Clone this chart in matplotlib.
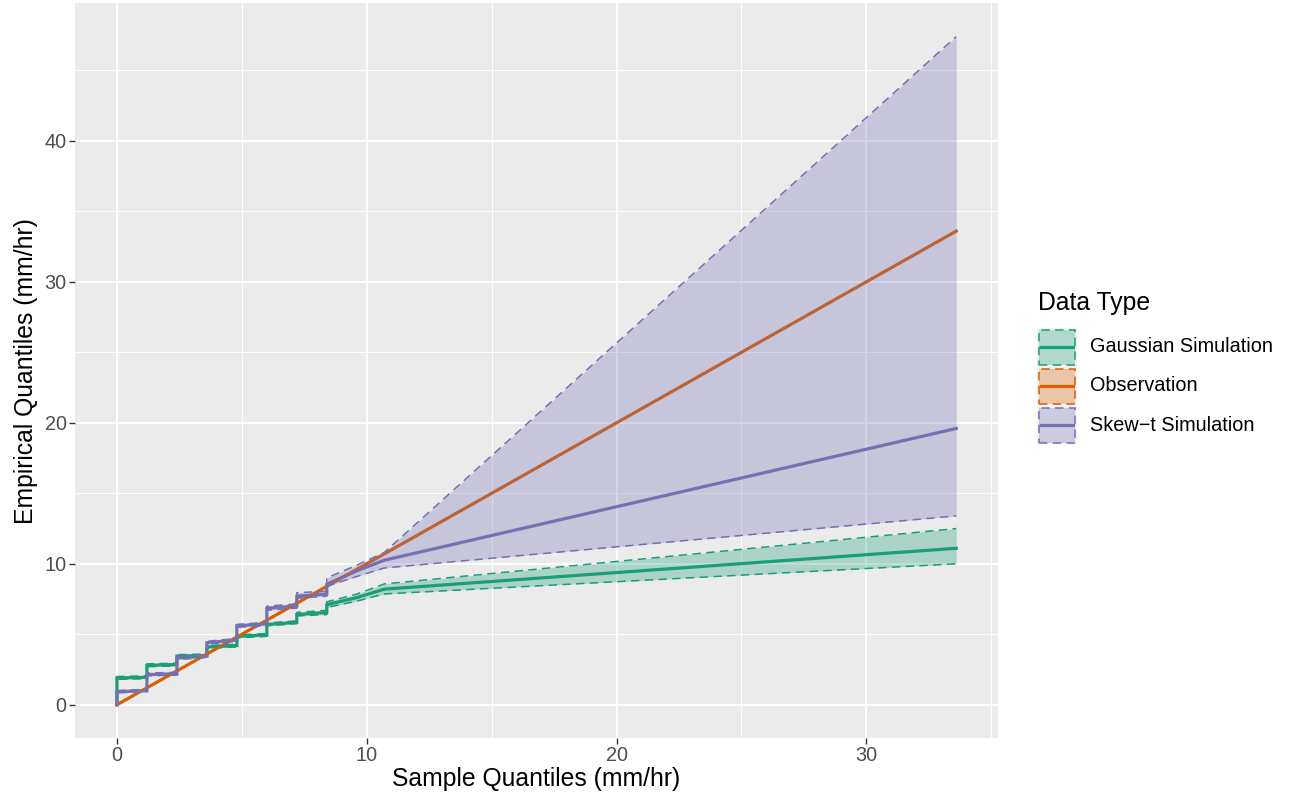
import matplotlib.pyplot as plt
from matplotlib.patches import Rectangle
from matplotlib.lines import Line2D

plt.rcParams['font.family'] = ['Liberation Sans', 'DejaVu Sans']

# sample quantiles of the observations (x), shared by all series
sample_q = [0, 0, 1.2, 1.2, 2.4, 2.4, 3.6, 3.6, 4.8, 4.8, 6.0, 6.0,
            7.2, 7.2, 8.4, 8.4, 9.6, 10.7, 33.6]
obs_q = [0, 0, 1.2, 1.2, 2.4, 2.4, 3.6, 3.6, 4.8, 4.8, 6.0, 6.0,
         7.2, 7.2, 8.4, 8.4, 9.6, 10.7, 33.6]

gauss_q = [0, 1.9, 1.95, 2.8, 2.85, 3.45, 3.5, 4.1, 4.2, 4.85, 4.95, 5.7,
           5.85, 6.4, 6.55, 7.1, 7.6, 8.2, 11.1]
gauss_lo = [0, 1.8, 1.85, 2.7, 2.75, 3.35, 3.4, 4.0, 4.1, 4.75, 4.85, 5.6,
            5.75, 6.3, 6.4, 6.9, 7.35, 7.86, 10.0]
gauss_hi = [0, 2.0, 2.05, 2.9, 2.95, 3.55, 3.6, 4.2, 4.3, 4.95, 5.05, 5.8,
            5.95, 6.55, 6.7, 7.3, 7.85, 8.57, 12.5]

skew_q = [0, 0.93, 1.0, 2.14, 2.2, 3.33, 3.45, 4.4, 4.6, 5.6, 5.75, 6.85,
          7.0, 7.7, 7.85, 8.55, 9.5, 10.25, 19.6]
skew_lo = [0, 0.85, 0.9, 2.05, 2.1, 3.2, 3.35, 4.3, 4.5, 5.5, 5.6, 6.7,
           6.85, 7.55, 7.7, 8.4, 9.1, 9.7, 13.4]
skew_hi = [0, 1.0, 1.1, 2.25, 2.3, 3.45, 3.55, 4.5, 4.7, 5.7, 5.85, 7.0,
           7.15, 7.95, 8.05, 9.0, 9.9, 10.8, 47.4]

labels = ['Gaussian Simulation', 'Observation', 'Skew\u2212t Simulation']
colors = ['#1B9E77', '#D95F02', '#7570B3']
DASH = (0, (5.5, 3.5))

W, H = 1293, 798
fig = plt.figure(figsize=(W / 100, H / 100), dpi=100)
ax = fig.add_axes([0.058, 0.075, 0.714, 0.921])
ax.set_facecolor('#EBEBEB')

series = [(gauss_q, gauss_lo, gauss_hi), (obs_q, obs_q, obs_q), (skew_q, skew_lo, skew_hi)]

# lines first, ribbons on top (as in the original)
for (y, lo, hi), c in zip(series, colors):
    ax.plot(sample_q, y, color=c, lw=2.3, solid_joinstyle='miter', zorder=3)
for (y, lo, hi), c in zip(series, colors):
    ax.fill_between(sample_q, lo, hi, color=c, alpha=0.3, lw=0, zorder=4)
    ax.plot(sample_q, lo, color=c, lw=1.1, ls=DASH, zorder=4)
    ax.plot(sample_q, hi, color=c, lw=1.1, ls=DASH, zorder=4)

ax.set_xlim(-1.68, 35.28)
ax.set_ylim(-2.37, 49.77)
ax.set_xticks([0, 10, 20, 30])
ax.set_yticks([0, 10, 20, 30, 40])
ax.set_xticks([5, 15, 25, 35], minor=True)
ax.set_yticks([5, 15, 25, 35, 45], minor=True)
ax.grid(True, which='major', color='white', lw=1.4)
ax.grid(True, which='minor', color='white', lw=0.7)
ax.set_axisbelow(True)
for s in ax.spines.values():
    s.set_visible(False)
ax.tick_params(which='major', length=4, width=1.0, color='#333333',
               labelsize=14.3, labelcolor='#4D4D4D', pad=2)
ax.tick_params(which='minor', length=0)
ax.set_xlabel('Sample Quantiles (mm/hr)', fontsize=17.8, labelpad=1)
ax.set_ylabel('Empirical Quantiles (mm/hr)', fontsize=17.8, labelpad=5)

# legend, drawn by hand in pixel positions of the figure
def fx(px):
    return px / W

def fy(py):
    return 1 - py / H

fig.text(fx(1038), fy(303), 'Data Type', fontsize=17.8, va='center', ha='left')
row_y = [347, 386, 425]
for py, c, lab in zip(row_y, colors, labels):
    top = py - 19.5
    fig.add_artist(Rectangle((fx(1037), fy(top + 39)), 40 / W, 39 / H,
                             facecolor='#F2F2F2', edgecolor='none', transform=fig.transFigure))
    fig.add_artist(Rectangle((fx(1039), fy(top + 37)), 36 / W, 35 / H,
                             facecolor=c, alpha=0.3, edgecolor='none', transform=fig.transFigure))
    fig.add_artist(Rectangle((fx(1039), fy(top + 37)), 36 / W, 35 / H,
                             facecolor='none', edgecolor=c, lw=1.1, ls=DASH,
                             transform=fig.transFigure))
    fig.add_artist(Line2D([fx(1041), fx(1073)], [fy(py), fy(py)], color=c, lw=2.3,
                          transform=fig.transFigure))
    fig.text(fx(1090), fy(py), lab, fontsize=14.3, va='center', ha='left')

fig.savefig('out.png', dpi=100)
